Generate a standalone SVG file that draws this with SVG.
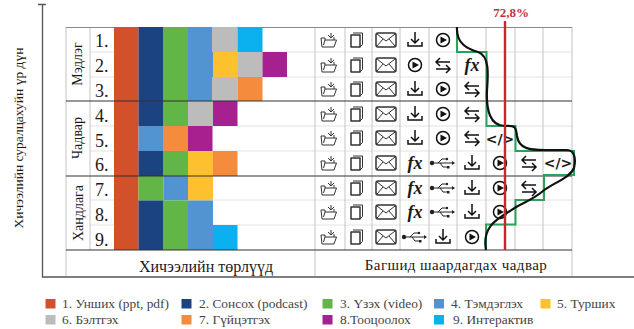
<svg xmlns="http://www.w3.org/2000/svg" width="634" height="329" viewBox="0 0 634 329">
<style>
text{font-family:"Liberation Serif",serif;fill:#1a1a1a}
.n{font-size:18px}
.g{font-size:14px;text-anchor:middle}
.t{font-size:16px;text-anchor:middle}
.l{font-size:13.400px;fill:#444}
.fx{font-size:18px;font-style:italic;font-weight:bold;text-anchor:middle}
.co{font-family:"DejaVu Sans",sans-serif;font-size:14px;font-weight:bold;text-anchor:middle}
.gl{stroke:#e2e2e2;stroke-width:1;fill:none}
.vl{stroke:#c4c4c4;stroke-width:1;fill:none}
.hl{stroke:#333;stroke-width:1.2;fill:none}
.ic{fill:none;stroke:#333;stroke-width:1;stroke-linejoin:round}
.ib{fill:none;stroke:#111;stroke-width:1.5}
.c1{fill:#d2502a}.c2{fill:#1c4381}.c3{fill:#62b547}.c4{fill:#5294d2}.c5{fill:#fdc02f}.c6{fill:#bcbcbc}.c7{fill:#f58c3d}.c8{fill:#a6218f}.c9{fill:#0bb0ef}
</style>
<defs>
<g id="folder" class="ic"><path d="M-8 -2L-7 7L5 7L7.500 0L-4 0L-4 -2Z M-5.500 5L-4 0"/><path d="M-1 -5L2 -2L2 -7M2 -2L5 -5"/><path d="M5 -3V0"/></g>
<g id="copy" class="ic"><path d="M-6 -5H3V7H-6Z" stroke-width="1.500"/><path d="M-4 -7H5.500V4.500L3 7"/></g>
<g id="mail" class="ic"><rect x="-10" y="-7" width="20" height="14" rx="2" stroke-width="1.500"/><path d="M-9 -6L0 1L9 -6M-9 6L-3 -1M9 6L3 -1"/></g>
<g id="down" class="ib"><path d="M0 -8V3M-4 -1L0 3L4 -1M-7 2V6H7V2"/></g>
<g id="play"><circle r="6.500" class="ib"/><path d="M-2.500 -3.500L4 0L-2.500 3.500Z" fill="#111"/></g>
<g id="swap" class="ib"><path d="M7 -3H-6M-3 -7L-7 -3L-3 1M-7 4H6M3 0L7 4L3 8"/></g>
<g id="usb" fill="#222"><circle cx="-11" r="2.200"/><path d="M-11 0H10" stroke="#222"/><path d="M-5 0L-1 -4H3M-3 0L0 4H4" fill="none" stroke="#222"/><circle cx="4" cy="-4" r="1.200"/><rect x="4" y="3" width="2.500" height="2.500"/><path d="M9 -2L12 0L9 2Z"/></g>
</defs>
<g id="grid">
<path class="gl" d="M90 52H572M90 77H572M90 126H572M90 151H572M90 200H572M90 225H572"/>
<path class="vl" d="M66 27V277M90 27V250M315 27V277M345 27V250M372 27V250M400 27V250M429 27V250M457 27V250M486 27V250M515 27V250M543 27V250M572 27V277"/>
<path d="M66 27.500H572" stroke="#888" stroke-width="1.200"/>
</g>
<g id="bars">
<rect class="c1" x="114" y="27" width="24.500" height="223"/>
<rect class="c2" x="138.500" y="27" width="25" height="99"/>
<rect class="c3" x="163" y="27" width="25" height="99"/>
<rect class="c4" x="188" y="27" width="25" height="74"/>
<rect class="c6" x="212" y="27" width="25.500" height="25"/>
<rect class="c9" x="237.500" y="27" width="25" height="25"/>
<rect class="c5" x="213" y="52" width="25" height="25"/>
<rect class="c6" x="238" y="52" width="24.500" height="25"/>
<rect class="c8" x="262.500" y="52" width="24.500" height="25"/>
<rect class="c6" x="212" y="77" width="25.500" height="24"/>
<rect class="c7" x="237.500" y="77" width="25" height="24"/>
<rect class="c6" x="188" y="101" width="25" height="25"/>
<rect class="c8" x="213" y="101" width="24.500" height="25"/>
<rect class="c4" x="138.500" y="126" width="24.500" height="25"/>
<rect class="c7" x="163" y="126" width="25" height="25"/>
<rect class="c8" x="188" y="126" width="24.500" height="25"/>
<rect class="c2" x="138.500" y="151" width="25" height="25"/>
<rect class="c3" x="163" y="151" width="25" height="25"/>
<rect class="c5" x="188" y="151" width="25" height="25"/>
<rect class="c7" x="213" y="151" width="24.500" height="25"/>
<rect class="c3" x="138.500" y="176" width="25" height="24.500"/>
<rect class="c4" x="163.500" y="176" width="24.500" height="24.500"/>
<rect class="c5" x="188" y="176" width="25" height="24.500"/>
<rect class="c2" x="138.500" y="200.500" width="25" height="49.500"/>
<rect class="c3" x="163" y="200.500" width="25" height="49.500"/>
<rect class="c4" x="188" y="200.500" width="25" height="49.500"/>
<rect class="c9" x="213" y="225" width="24.500" height="25"/>
</g>
<g id="separators">
<path class="hl" d="M66 101H572M66 176H572M66 250H572"/>
</g>
<g id="axis" fill="none" stroke="#555" stroke-width="1.300">
<path d="M38 4.500H46M42.500 4.500V277H634"/>
</g>
<g id="ylabel"><text class="g" transform="translate(23 138) rotate(-90)" style="font-size:13.500px">Хичээлийн суралцахуйн үр дүн</text></g>
<g id="groups">
<text class="g" transform="translate(82 64) rotate(-90)">Мэдлэг</text>
<text class="g" transform="translate(82 138) rotate(-90)">Чадвар</text>
<text class="g" transform="translate(83 213) rotate(-90)">Хандлага</text>
</g>
<g id="rownums">
<text class="n" x="95" y="47">1.</text>
<text class="n" x="95" y="72">2.</text>
<text class="n" x="95" y="97">3.</text>
<text class="n" x="95" y="122">4.</text>
<text class="n" x="95" y="147">5.</text>
<text class="n" x="95" y="171">6.</text>
<text class="n" x="95" y="196">7.</text>
<text class="n" x="95" y="221">8.</text>
<text class="n" x="95" y="246">9.</text>
</g>
<g id="icons">
<use href="#folder" x="329" y="40"/><use href="#copy" x="357" y="40"/><use href="#mail" x="386" y="40"/><use href="#down" x="415" y="40"/><use href="#play" x="443" y="40"/>
<use href="#folder" x="329" y="65"/><use href="#copy" x="357" y="65"/><use href="#mail" x="386" y="65"/><use href="#play" x="415" y="65"/><use href="#swap" x="443" y="65"/><text class="fx" x="472" y="71">fx</text>
<use href="#folder" x="329" y="89"/><use href="#copy" x="357" y="89"/><use href="#mail" x="386" y="89"/><use href="#down" x="415" y="89"/><use href="#play" x="443" y="89"/><use href="#swap" x="472" y="89"/>
<use href="#folder" x="329" y="114"/><use href="#copy" x="357" y="114"/><use href="#mail" x="386" y="114"/><use href="#down" x="415" y="114"/><use href="#play" x="443" y="114"/><use href="#swap" x="472" y="114"/>
<use href="#folder" x="329" y="138"/><use href="#copy" x="357" y="138"/><use href="#mail" x="386" y="138"/><use href="#down" x="415" y="138"/><use href="#play" x="443" y="138"/><use href="#swap" x="472" y="138"/><text class="co" x="500" y="144">&lt;/&gt;</text>
<use href="#folder" x="329" y="163"/><use href="#copy" x="357" y="163"/><use href="#mail" x="386" y="163"/><text class="fx" x="415" y="169">fx</text><use href="#usb" x="443" y="163"/><use href="#down" x="472" y="163"/><use href="#play" x="500" y="163"/><use href="#swap" x="529" y="163"/><text class="co" x="558" y="168">&lt;/&gt;</text>
<use href="#folder" x="329" y="188"/><use href="#copy" x="357" y="188"/><use href="#mail" x="386" y="188"/><text class="fx" x="415" y="194">fx</text><use href="#usb" x="443" y="188"/><use href="#down" x="472" y="188"/><use href="#play" x="500" y="188"/><use href="#swap" x="529" y="188"/>
<use href="#folder" x="329" y="212"/><use href="#copy" x="357" y="212"/><use href="#mail" x="386" y="212"/><text class="fx" x="415" y="218">fx</text><use href="#usb" x="443" y="212"/><use href="#down" x="472" y="212"/><use href="#play" x="500" y="212"/>
<use href="#folder" x="329" y="237"/><use href="#copy" x="357" y="237"/><use href="#mail" x="386" y="237"/><use href="#usb" x="415" y="237"/><use href="#down" x="443" y="237"/><use href="#play" x="472" y="237"/>
</g>
<g id="connectors" fill="none">
<path stroke="#27a35a" stroke-width="2" d="M457 27V52H486.500V126H515.500V151H574V175H544V200H515.500V224.500H486V250"/>
<path stroke="#111" stroke-width="2.200" d="M457 27C456 44 468 49 478 52C490 56 488 76 487 90C486 110 490 126 505 126C516 125 516 128 517 136C519 149 530 150 545 150L567 150C575 150 576 160 574 168C570 178 553 183 543 191C530 202 520 203 510 211C495 220 482 228 486 250"/>
<path stroke="#c9262f" stroke-width="2.400" d="M505 21V250"/>
</g>
<g id="red-label"><text x="511" y="17" text-anchor="middle" font-weight="bold" font-size="13" style="fill:#c0323c">72,8%</text></g>
<g id="footers">
<text class="t" x="206" y="272">Хичээлийн төрлүүд</text>
<text class="t" x="456" y="270" style="font-size:15px;letter-spacing:.4px">Багшид шаардагдах чадвар</text>
</g>
<g id="legend">
<rect class="c1" x="45.500" y="299" width="10" height="9.500"/><text class="l" x="62" y="308">1. Унших (ppt, pdf)</text>
<rect class="c2" x="181.500" y="299" width="10" height="9.500"/><text class="l" x="199" y="308">2. Сонсох (podcast)</text>
<rect class="c3" x="322.500" y="299" width="10" height="9.500"/><text class="l" x="340" y="308">3. Үзэх (video)</text>
<rect class="c4" x="434" y="299" width="10" height="9.500"/><text class="l" x="451" y="308">4. Тэмдэглэх</text>
<rect class="c5" x="540.500" y="299" width="10" height="9.500"/><text class="l" x="557" y="308">5. Турших</text>
<rect class="c6" x="45.500" y="315" width="10" height="9.500"/><text class="l" x="62" y="324">6. Бэлтгэх</text>
<rect class="c7" x="181.500" y="315" width="10" height="9.500"/><text class="l" x="199" y="324">7. Гүйцэтгэх</text>
<rect class="c8" x="322.500" y="315" width="10" height="9.500"/><text class="l" x="340" y="324">8.Тооцоолох</text>
<rect class="c9" x="434" y="315" width="10" height="9.500"/><text class="l" x="453" y="324">9. Интерактив</text>
</g>
</svg>
